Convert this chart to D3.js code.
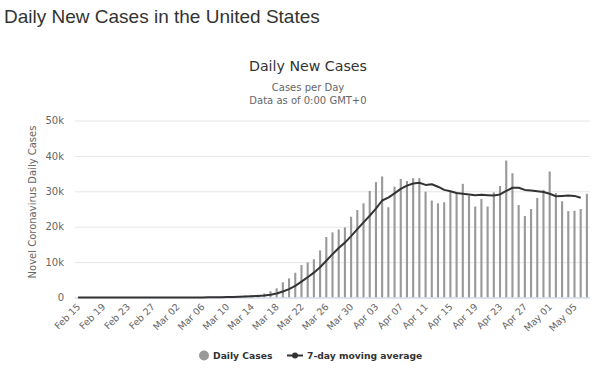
<!DOCTYPE html>
<html>
<head>
<meta charset="utf-8">
<script src="https://cdn.jsdelivr.net/npm/d3@7"></script>
<style>
  html, body { margin: 0; padding: 0; background: #fff; }
  svg { display: block; }
</style>
</head>
<body>
<svg id="chart" width="600" height="374"></svg>
<script>
const categories = [
  "Feb 15","Feb 16","Feb 17","Feb 18","Feb 19","Feb 20","Feb 21","Feb 22","Feb 23","Feb 24","Feb 25","Feb 26","Feb 27","Feb 28","Feb 29",
  "Mar 01","Mar 02","Mar 03","Mar 04","Mar 05","Mar 06","Mar 07","Mar 08","Mar 09","Mar 10","Mar 11","Mar 12","Mar 13","Mar 14","Mar 15",
  "Mar 16","Mar 17","Mar 18","Mar 19","Mar 20","Mar 21","Mar 22","Mar 23","Mar 24","Mar 25","Mar 26","Mar 27","Mar 28","Mar 29","Mar 30","Mar 31",
  "Apr 01","Apr 02","Apr 03","Apr 04","Apr 05","Apr 06","Apr 07","Apr 08","Apr 09","Apr 10","Apr 11","Apr 12","Apr 13","Apr 14","Apr 15",
  "Apr 16","Apr 17","Apr 18","Apr 19","Apr 20","Apr 21","Apr 22","Apr 23","Apr 24","Apr 25","Apr 26","Apr 27","Apr 28","Apr 29","Apr 30",
  "May 01","May 02","May 03","May 04","May 05","May 06","May 07"
];
const dailyCases = [
  0,0,0,0,0,0,20,0,0,18,0,6,1,1,6,
  8,23,20,31,70,68,113,116,190,290,270,420,550,680,760,
  1150,1750,2600,4300,5400,7000,9150,9900,10800,13300,17100,18400,19200,19800,22800,24700,
  26600,30100,32600,34200,25500,31300,33500,32900,33700,33700,29900,27400,26600,26900,30100,
  29700,32100,28800,25700,27800,25700,29700,31500,38700,35100,26100,23000,25000,28100,30400,
  35600,29500,27200,24400,24500,25000,29300
];
const movingAvg = [
  0,0,0,0,0,0,3,3,3,5,5,6,6,4,5,
  6,9,9,13,24,32,44,60,87,125,160,210,278,359,451,
  589,797,1130,1684,2377,3280,4479,5729,7021,8550,10379,12236,13979,15500,17343,19329,
  21229,23086,25114,27400,28200,29400,30700,31600,32200,32400,31800,32000,31300,30400,30000,
  29500,29300,29100,28900,29000,28900,28800,29100,30100,31000,31000,30400,30200,30000,29800,
  29300,28600,28700,28800,28700,28200
];
const yTicks = [0,10000,20000,30000,40000,50000];
const yTickLabels = ["0","10k","20k","30k","40k","50k"];
const xTickLabels = ["Feb 15","Feb 19","Feb 23","Feb 27","Mar 02","Mar 06","Mar 10","Mar 14","Mar 18","Mar 22","Mar 26","Mar 30","Apr 03","Apr 07","Apr 11","Apr 15","Apr 19","Apr 23","Apr 27","May 01","May 05"];

const svg = d3.select("#chart");
const font = "'DejaVu Sans', sans-serif";
const plotLeft = 75, plotRight = 590, plotTop = 120.5, plotBottom = 297.5;

const x = d3.scaleBand().domain(categories).range([plotLeft, plotRight]).paddingInner(0.66).paddingOuter(0.33);
const y = d3.scaleLinear().domain([0, 50000]).range([plotBottom, plotTop]);

// Page title
svg.append("text").attr("x", 4).attr("y", 22.5)
  .attr("font-family", "'Liberation Sans', Arial, sans-serif").attr("font-size", 19)
  .attr("fill", "#333").text("Daily New Cases in the United States");

// Chart titles
svg.append("text").attr("x", 308).attr("y", 71).attr("text-anchor", "middle")
  .attr("font-family", font).attr("font-size", 14.2).attr("fill", "#333").text("Daily New Cases");
svg.append("text").attr("x", 308).attr("y", 91).attr("text-anchor", "middle")
  .attr("font-family", font).attr("font-size", 10).attr("fill", "#666").text("Cases per Day");
svg.append("text").attr("x", 308).attr("y", 104).attr("text-anchor", "middle")
  .attr("font-family", font).attr("font-size", 10).attr("fill", "#666").text("Data as of 0:00 GMT+0");

// Grid
const yAxis = d3.axisLeft(y).tickValues(yTicks).tickFormat((d, i) => yTickLabels[i]).tickSize(-(plotRight - plotLeft)).tickPadding(11);
const gy = svg.append("g").attr("transform", `translate(${plotLeft},0)`).call(yAxis);
gy.select(".domain").remove();
gy.selectAll(".tick line").attr("stroke", "#e6e6e6");
gy.selectAll(".tick text").attr("font-family", font).attr("font-size", 10).attr("fill", "#666");

// Y axis title
svg.append("text").attr("transform", "translate(36,202) rotate(-90)").attr("text-anchor", "middle")
  .attr("font-family", font).attr("font-size", 10).attr("fill", "#666").text("Novel Coronavirus Daily Cases");

// Bars
svg.append("g").selectAll("rect").data(dailyCases).join("rect")
  .attr("x", (d, i) => x(categories[i]))
  .attr("width", x.bandwidth())
  .attr("y", d => y(d))
  .attr("height", d => plotBottom - y(d))
  .attr("fill", "#999");

// X axis
const xAxis = d3.axisBottom(x).tickValues(xTickLabels).tickSize(0).tickPadding(0);
const gx = svg.append("g").attr("transform", `translate(0,${plotBottom})`).call(xAxis);
gx.select(".domain").attr("stroke", "#ccd6eb").attr("d", `M${plotLeft},0.5H${plotRight}`);
gx.selectAll(".tick text")
  .attr("font-family", font).attr("font-size", 9.5).attr("fill", "#666")
  .attr("text-anchor", "end").attr("dy", null).attr("y", 0)
  .attr("transform", "translate(3,10) rotate(-45)");

// Moving average line
const line = d3.line().x((d, i) => x(categories[i]) + x.bandwidth() / 2).y(d => y(d)).curve(d3.curveLinear);
svg.append("path").datum(movingAvg).attr("d", line)
  .attr("fill", "none").attr("stroke", "#333").attr("stroke-width", 2).attr("stroke-linejoin", "round");

// Legend
const lg = svg.append("g");
lg.append("circle").attr("cx", 204).attr("cy", 355.5).attr("r", 5).attr("fill", "#999");
lg.append("text").attr("x", 213).attr("y", 359).attr("font-family", font).attr("font-size", 9.2)
  .attr("font-weight", "bold").attr("fill", "#333").text("Daily Cases");
lg.append("path").attr("d", "M287,355.5H303").attr("stroke", "#333").attr("stroke-width", 2);
lg.append("circle").attr("cx", 295).attr("cy", 355.5).attr("r", 3).attr("fill", "#333");
lg.append("text").attr("x", 307).attr("y", 359).attr("font-family", font).attr("font-size", 9.2)
  .attr("font-weight", "bold").attr("fill", "#333").text("7-day moving average");
</script>
</body>
</html>
